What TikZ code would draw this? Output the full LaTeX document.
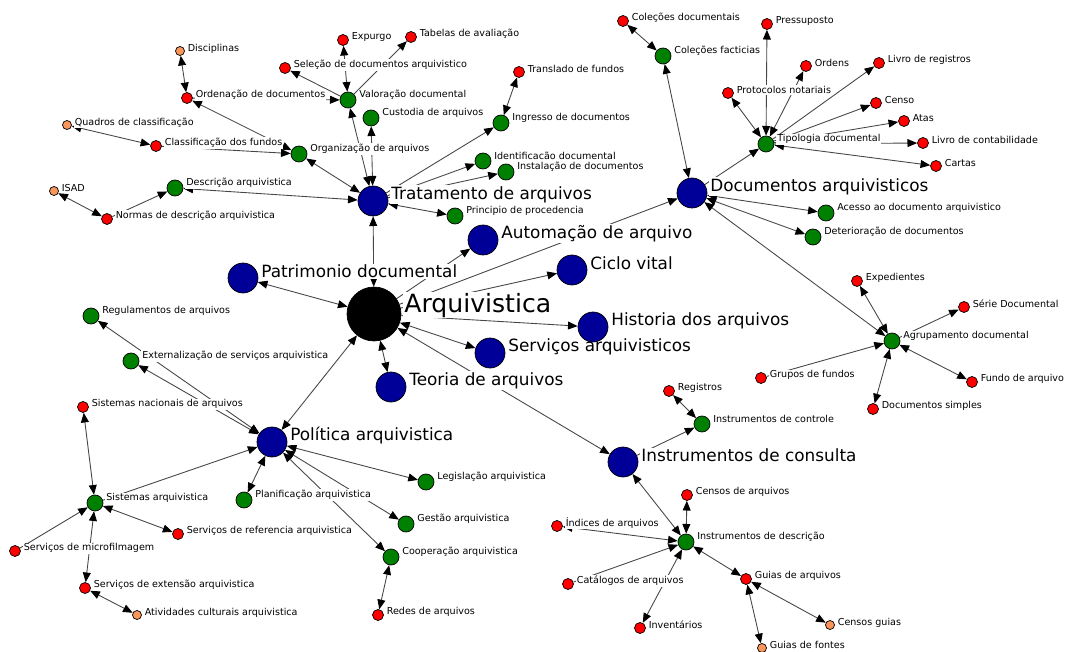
\documentclass[tikz,border=0pt]{standalone}
\usepackage{fontspec}
\setmainfont{DejaVu Sans}
\usetikzlibrary{arrows.meta,backgrounds}
\definecolor{mynavy}{RGB}{0,0,153}
\definecolor{mygreen}{RGB}{0,128,0}
\definecolor{myred}{RGB}{255,0,0}
\definecolor{myorange}{RGB}{250,150,90}
\definecolor{myedge}{RGB}{70,70,70}

\tikzset{
  lbl/.style={fill=white, inner sep=0.5pt, font=\fontsize{5.45}{6.5}\selectfont},
  hub/.style={circle, draw, fill=black, minimum size=1.08cm, inner sep=0pt,
    label={[lbl, font=\fontsize{14.3}{17}\selectfont, yshift=5pt]east:#1}},
  theme/.style={circle, draw, fill=mynavy, minimum size=0.6cm, inner sep=0pt,
    label={[lbl, font=\fontsize{9.6}{11}\selectfont, yshift=3.7pt]east:#1}},
  concept/.style={circle, draw, fill=mygreen, minimum size=0.32cm, inner sep=0pt,
    label={[lbl, yshift=2.8pt]east:#1}},
  term/.style={circle, draw, fill=myred, minimum size=0.22cm, inner sep=0pt,
    label={[lbl, yshift=1.7pt]east:#1}},
  leaf/.style={circle, draw, fill=myorange, minimum size=0.18cm, inner sep=0pt,
    label={[lbl, yshift=1.5pt]east:#1}},
  link/.style={draw=myedge, line width=0.5pt, ->},
  dlink/.style={draw=myedge, line width=0.5pt, <->}
}

\begin{document}
\begin{tikzpicture}[x=0.02cm, y=-0.02cm, label distance=1pt,
    >={Triangle[length=5.5pt,width=4.5pt,black]}]
    \useasboundingbox (0,0) rectangle (1066,652);

    % Centre and main themes
    \node[hub=Arquivistica] (arq) at (374,314) {};
    \node[theme=Tratamento de arquivos] (trat) at (373,201) {};
    \node[theme=Documentos arquivisticos] (docs) at (692,193) {};
    \node[theme=Automação de arquivo] (auto) at (483,240) {};
    \node[theme=Patrimonio documental] (patr) at (243,278) {};
    \node[theme=Ciclo vital] (ciclo) at (572,270) {};
    \node[theme=Serviços arquivisticos] (serv) at (490,353) {};
    \node[theme=Historia dos arquivos] (hist) at (593,327) {};
    \node[theme=Teoria de arquivos] (teor) at (391,387) {};
    \node[theme=Política arquivistica] (pol) at (272,442) {};
    \node[theme=Instrumentos de consulta] (cons) at (623,462) {};

    % Tratamento de arquivos
    \node[concept=Valoração documental] (valor) at (348,100) {};
    \node[concept=Custodia de arquivos] (cust) at (371,118) {};
    \node[concept=Organização de arquivos] (org) at (299,154) {};
    \node[concept=Ingresso de documentos] (ingr) at (501,123) {};
    \node[concept=Identificacão documental] (ident) at (483,161) {};
    \node[concept=Instalação de documentos] (instal) at (506,172) {};
    \node[concept=Principio de procedencia] (princ) at (455,216) {};
    \node[concept=Descrição arquivistica] (desc) at (175,188) {};
    \node[term=Expurgo] (expu) at (343,40) {};
    \node[term=Tabelas de avaliação] (tabel) at (411,37) {};
    \node[term=Seleção de documentos arquivistico] (selec) at (285,68) {};
    \node[term=Ordenação de documentos] (orden) at (187,98) {};
    \node[term=Classificação dos fundos] (classif) at (156,146) {};
    \node[term=Normas de descrição arquivistica] (normas) at (107,219) {};
    \node[term=Translado de fundos] (transl) at (519,72) {};
    \node[leaf=Disciplinas] (discip) at (180,51) {};
    \node[leaf=Quadros de classificação] (quadros) at (67,125) {};
    \node[leaf=ISAD] (isad) at (54,191) {};

    % Documentos arquivisticos
    \node[concept=Coleções facticias] (colf) at (663,56) {};
    \node[concept=Tipologia documental] (tipo) at (766,144) {};
    \node[concept=Acesso ao documento arquivistico] (aces) at (826,213) {};
    \node[concept=Deterioração de documentos] (deter) at (813,237) {};
    \node[concept=Agrupamento documental] (agrup) at (892,341) {};
    \node[term=Coleções documentais] (coldoc) at (623,21) {};
    \node[term=Pressuposto] (press) at (767,24) {};
    \node[term=Ordens] (ordens) at (806,66) {};
    \node[term=Protocolos notariais] (proto) at (728,93) {};
    \node[term=Livro de registros] (livreg) at (879,63) {};
    \node[term=Censo] (censo) at (876,103) {};
    \node[term=Atas] (atas) at (904,121) {};
    \node[term=Livro de contabilidade] (livcont) at (923,143) {};
    \node[term=Cartas] (cartas) at (936,166) {};
    \node[term=Expedientes] (exped) at (857,281) {};
    \node[term=Série Documental] (serie) at (964,307) {};
    \node[term=Grupos de fundos] (grupos) at (761,378) {};
    \node[term=Fundo de arquivo] (fundo) at (972,382) {};
    \node[term=Documentos simples] (simples) at (873,409) {};

    % Instrumentos de consulta
    \node[concept=Instrumentos de controle] (ctrl) at (702,424) {};
    \node[concept=Instrumentos de descrição] (descr) at (686,542) {};
    \node[term=Registros] (regis) at (669,391) {};
    \node[term=Censos de arquivos] (censa) at (687,495) {};
    \node[term=Índices de arquivos] (indi) at (557,526) {};
    \node[term=Catálogos de arquivos] (catal) at (568,584) {};
    \node[term=Inventários] (invent) at (640,628) {};
    \node[term=Guias de arquivos] (guias) at (746,579) {};
    \node[leaf=Censos guias] (censg) at (830,625) {};
    \node[leaf=Guias de fontes] (fontes) at (762,648) {};

    % Politica arquivistica
    \node[concept=Regulamentos de arquivos] (regul) at (91,316) {};
    \node[concept=Externalização de serviços arquivistica] (ext) at (131,361) {};
    \node[concept=Sistemas arquivistica] (sist) at (95,503) {};
    \node[concept=Planificação arquivistica] (plan) at (244,500) {};
    \node[concept=Legislação arquivistica] (legis) at (426,482) {};
    \node[concept=Gestão arquivistica] (gest) at (406,524) {};
    \node[concept=Cooperação arquivistica] (coop) at (391,557) {};
    \node[term=Sistemas nacionais de arquivos] (nacio) at (83,407) {};
    \node[term=Serviços de microfilmagem] (micro) at (15,551) {};
    \node[term=Serviços de referencia arquivistica] (refer) at (178,534) {};
    \node[term=Serviços de extensão arquivistica] (exten) at (85,588) {};
    \node[term=Redes de arquivos] (redes) at (378,615) {};
    \node[leaf=Atividades culturais arquivistica] (ativ) at (137,615) {};

    % Connectors under the nodes and labels
    \begin{pgfonlayer}{background}
    \draw[dlink] (arq) -- (trat);
    \draw[dlink] (arq) -- (patr);
    \draw[link] (arq) -- (auto);
    \draw[link] (arq) -- (docs);
    \draw[link] (arq) -- (ciclo);
    \draw[link] (arq) -- (hist);
    \draw[dlink] (arq) -- (serv);
    \draw[dlink] (arq) -- (teor);
    \draw[dlink] (arq) -- (pol);
    \draw[dlink] (arq) -- (cons);

    \draw[dlink] (trat) -- (org);
    \draw[dlink] (trat) -- (desc);
    \draw[dlink] (trat) -- (valor);
    \draw[dlink] (trat) -- (cust);
    \draw[link] (trat) -- (ingr);
    \draw[link] (trat) -- (ident);
    \draw[link] (trat) -- (instal);
    \draw[dlink] (trat) -- (princ);
    \draw[dlink] (valor) -- (expu);
    \draw[link] (valor) -- (tabel);
    \draw[link] (valor) -- (selec);
    \draw[link] (orden) -- (valor);
    \draw[dlink] (org) -- (orden);
    \draw[dlink] (orden) -- (discip);
    \draw[link] (classif) -- (org);
    \draw[dlink] (classif) -- (quadros);
    \draw[link] (normas) -- (desc);
    \draw[dlink] (normas) -- (isad);
    \draw[dlink] (ingr) -- (transl);

    \draw[dlink] (docs) -- (colf);
    \draw[dlink] (colf) -- (coldoc);
    \draw[link] (docs) -- (tipo);
    \draw[dlink] (tipo) -- (press);
    \draw[dlink] (tipo) -- (ordens);
    \draw[dlink] (tipo) -- (proto);
    \draw[link] (tipo) -- (livreg);
    \draw[link] (tipo) -- (censo);
    \draw[link] (tipo) -- (atas);
    \draw[link] (tipo) -- (livcont);
    \draw[dlink] (tipo) -- (cartas);
    \draw[dlink] (docs) -- (aces);
    \draw[dlink] (docs) -- (deter);
    \draw[dlink] (docs) -- (agrup);
    \draw[dlink] (agrup) -- (exped);
    \draw[link] (agrup) -- (serie);
    \draw[link] (grupos) -- (agrup);
    \draw[dlink] (agrup) -- (fundo);
    \draw[dlink] (agrup) -- (simples);

    \draw[link] (cons) -- (ctrl);
    \draw[dlink] (ctrl) -- (regis);
    \draw[dlink] (cons) -- (descr);
    \draw[dlink] (descr) -- (censa);
    \draw[dlink] (descr) -- (indi);
    \draw[link] (catal) -- (descr);
    \draw[dlink] (descr) -- (invent);
    \draw[dlink] (descr) -- (guias);
    \draw[dlink] (guias) -- (censg);
    \draw[dlink] (guias) -- (fontes);

    \draw[dlink] (pol) -- (regul);
    \draw[dlink] (pol) -- (ext);
    \draw[dlink] (nacio) -- (sist);
    \draw[link] (sist) -- (pol);
    \draw[link] (micro) -- (sist);
    \draw[dlink] (sist) -- (refer);
    \draw[dlink] (sist) -- (exten);
    \draw[dlink] (exten) -- (ativ);
    \draw[dlink] (pol) -- (plan);
    \draw[dlink] (pol) -- (legis);
    \draw[dlink] (pol) -- (gest);
    \draw[dlink] (pol) -- (coop);
    \draw[dlink] (coop) -- (redes);
    \end{pgfonlayer}
\end{tikzpicture}
\end{document}
